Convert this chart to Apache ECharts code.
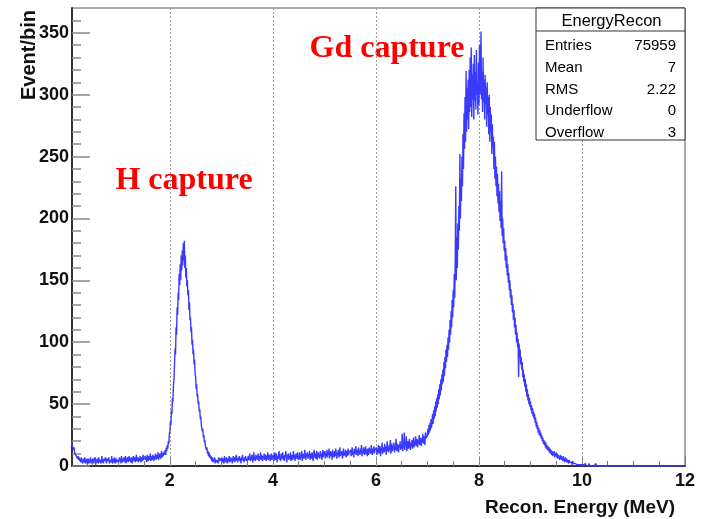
<!DOCTYPE html>
<html>
<head>
<meta charset="utf-8">
<script src="https://cdn.jsdelivr.net/npm/echarts@6/dist/echarts.min.js"></script>
<style>html,body{margin:0;padding:0;background:#fff}#c{width:702px;height:519px}</style>
</head>
<body>
<div id="c"></div>
<script>
// Histogram: bins of 0.01 MeV starting at 0 MeV, 50 bins per array
const binStart = 0;
const binWidth = 0.01;
const counts_00_05 = [34,30,31,27,28,24,25,21,22,19, 20,16,17,13,15,11,12,9,10,8, 9,6,8,5,7,4,6,3,7,4, 5,2,6,3,4,7,2,5,3,6, 1,4,6,2,5,3,7,2,4,5];
const counts_05_10 = [3,6,2,5,4,7,1,5,3,6, 4,2,7,3,5,6,2,4,8,3, 5,2,6,4,3,7,5,2,6,4, 3,7,4,2,5,6,3,8,4,2, 6,3,5,7,2,4,6,3,5,4];
const counts_10_15 = [5,3,7,4,6,2,8,5,3,6, 4,7,3,5,8,2,6,4,7,3, 5,8,4,6,3,7,5,2,6,8, 4,5,7,3,6,9,4,5,7,3, 6,4,8,5,3,7,6,4,9,5];
const counts_15_20 = [6,4,8,5,7,3,9,6,4,8, 5,7,10,4,6,8,5,9,7,4, 8,6,10,5,7,9,6,11,5,8, 7,10,6,9,12,7,10,8,11,9, 10,13,9,15,12,17,14,20,18,26];
const counts_20_25 = [28,36,33,45,42,55,52,66,70,82, 95,90,112,106,128,122,140,134,155,146, 163,150,170,158,174,162,180,166,182,160, 170,152,160,145,150,138,142,126,132,118, 120,108,112,98,102,90,94,82,86,74];
const counts_25_30 = [72,62,66,56,58,50,52,44,46,38, 40,33,34,28,30,23,25,19,21,16, 17,13,15,10,12,8,11,7,9,6, 8,4,7,5,3,6,4,7,2,5, 4,6,3,5,2,7,4,3,6,5];
const counts_30_35 = [4,7,3,6,5,2,8,4,6,3, 7,5,2,6,4,8,3,5,7,4, 6,2,5,8,4,7,3,6,5,9, 4,6,3,7,5,8,4,6,2,7, 5,9,4,6,3,7,5,8,4,6];
const counts_35_40 = [7,4,8,5,6,10,4,7,5,9, 6,3,8,11,5,7,4,9,6,8, 5,10,7,4,8,6,11,5,9,7, 4,8,6,10,5,7,9,4,8,6, 11,5,7,9,6,4,8,10,5,7];
const counts_40_45 = [6,9,4,8,11,5,7,10,3,8, 6,9,12,5,7,4,10,8,6,11, 5,8,4,9,7,12,6,3,9,7, 10,5,8,6,11,4,7,9,5,8, 12,6,9,4,8,10,6,7,11,5];
const counts_45_50 = [8,6,11,5,9,7,12,4,10,8, 6,9,13,7,5,10,8,11,6,9, 7,12,5,8,10,6,11,9,4,8, 13,7,10,6,9,12,5,8,11,7, 9,6,12,8,10,5,9,13,7,10];
const counts_50_55 = [9,12,6,10,8,13,7,11,9,14, 6,10,12,8,11,5,13,9,10,7, 12,8,14,10,6,11,9,13,7,10, 15,8,11,9,12,6,10,14,8,11, 9,13,7,12,10,8,14,9,11,12];
const counts_55_60 = [10,13,8,12,15,9,11,7,14,10, 12,16,9,11,13,8,15,10,12,9, 14,11,17,8,12,10,15,13,9,11, 16,10,13,8,14,12,9,15,11,13, 10,17,12,9,14,11,16,10,13,12];
const counts_60_65 = [12,15,9,14,11,17,10,13,16,8, 14,12,19,10,15,13,11,18,12,16, 9,14,20,12,15,11,17,13,21,10, 15,18,12,16,14,19,11,15,13,22, 16,12,18,14,11,17,15,20,13,16];
const counts_65_70 = [14,26,12,18,15,27,13,19,16,24, 12,17,20,14,18,22,15,13,19,16, 21,14,18,23,15,20,17,24,16,19, 22,15,21,18,25,17,20,23,16,22, 19,26,18,24,21,17,27,22,25,23];
const counts_70_75 = [22,30,25,33,27,35,29,38,31,36, 42,34,45,38,48,40,52,44,55,47, 58,50,62,54,66,57,70,61,74,66, 78,68,84,73,88,79,94,84,98,88, 104,94,110,100,118,106,125,112,134,120];
const counts_75_80 = [142,128,155,136,168,226,150,185,160,196, 175,210,190,252,200,232,214,250,226,268, 240,285,256,298,262,319,270,305,280,312, 272,320,286,330,290,338,282,316,296,325, 280,332,295,318,288,336,300,310,284,326];
const counts_80_85 = [292,340,300,322,351,296,318,286,330,294, 312,280,316,292,306,274,310,284,298,268, 300,262,290,270,284,252,276,258,266,240, 262,232,250,226,242,218,236,212,228,205, 222,198,214,192,238,186,200,180,192,174];
const counts_85_90 = [182,166,176,160,170,154,163,148,156,142, 150,136,143,130,138,124,131,118,126,112, 120,106,114,100,108,96,103,72,99,88, 94,82,88,78,84,72,78,68,74,64, 70,60,66,56,62,53,58,50,55,48];
const counts_90_95 = [52,45,49,42,47,40,44,38,42,35, 39,32,36,30,33,27,31,25,29,24, 27,22,25,20,23,18,21,17,20,15, 19,14,17,13,16,12,15,11,14,10, 13,9,12,8,11,9,12,7,10,8];
const counts_95_100 = [11,7,10,6,9,7,8,5,9,6, 8,5,7,4,8,5,6,3,7,4, 6,3,5,4,2,5,3,4,2,4, 3,1,4,2,3,1,3,2,1,3, 2,1,2,0,2,1,1,2,0,1];
const counts_100_105 = [1,0,2,1,0,1,0,2,0,1, 0,1,0,0,2,0,1,0,1,0, 0,1,0,0,1,0,0,2,0,0, 1,0,0,1,0,0,0,1,0,0, 0,0,1,0,0,0,1,0,0,0];
const counts_105_110 = [0,1,0,0,0,0,1,0,0,0, 0,0,0,1,0,0,0,0,0,1, 0,0,0,0,0,0,1,0,0,0, 0,0,0,0,1,0,0,0,0,0, 0,0,0,0,0,0,0,1,0,0];
const counts_110_115 = [0,0,0,0,1,0,0,0,0,0, 0,0,0,0,0,0,0,0,1,0, 0,0,0,0,0,0,0,0,0,0, 0,1,0,0,0,0,0,0,0,0, 0,0,0,0,0,0,0,0,0,0];
const counts_115_120 = [0,0,0,0,0,0,0,0,0,0, 0,0,0,1,0,0,0,0,0,0, 0,0,0,0,0,0,0,0,0,0, 0,0,0,0,0,0,0,0,0,0, 0,0,0,0,0,0,0,0,0,0];

const xRange = [0.1, 12];
const yRange = [0, 370];
const xTickLabels = [2, 4, 6, 8, 10, 12];
const xMinorTicks = [0.5,1,1.5,2,2.5,3,3.5,4,4.5,5,5.5,6,6.5,7,7.5,8,8.5,9,9.5,10,10.5,11,11.5];
const xGridLines = [2, 4, 6, 8, 10];
const yTickLabels = [0, 50, 100, 150, 200, 250, 300, 350];
const yMinorTicks = [10,20,30,40,60,70,80,90,110,120,130,140,160,170,180,190,210,220,230,240,260,270,280,290,310,320,330,340,360];
const statsTitle = 'EnergyRecon';
const statsNames = ['Entries', 'Mean', 'RMS', 'Underflow', 'Overflow'];
const statsValues = ['75959', '7', '2.22', '0', '3'];
const xTitle = 'Recon. Energy (MeV)';
const yTitle = 'Event/bin';
const annotations = ['Gd capture', 'H capture'];

const allCounts = [].concat(counts_00_05, counts_05_10, counts_10_15, counts_15_20, counts_20_25, counts_25_30,
  counts_30_35, counts_35_40, counts_40_45, counts_45_50, counts_50_55, counts_55_60,
  counts_60_65, counts_65_70, counts_70_75, counts_75_80, counts_80_85, counts_85_90,
  counts_90_95, counts_95_100, counts_100_105, counts_105_110, counts_110_115, counts_115_120);
const histData = allCounts.map((v, i) => [+(binStart + (i + 0.5) * binWidth).toFixed(4), v]);

const chart = echarts.init(document.getElementById('c'), null, {renderer: 'canvas'});

const G = {left: 72, right: 17, top: 8, bottom: 53};
const statsGraphics = [];
const bx = 536, by = 8, bw = 149, bh = 132;
statsGraphics.push({type: 'rect', shape: {x: bx, y: by, width: bw, height: bh}, style: {fill: '#fff', stroke: '#333', lineWidth: 1}, z: 10});
statsGraphics.push({type: 'line', shape: {x1: bx, y1: 31, x2: bx + bw, y2: 31}, style: {stroke: '#333', lineWidth: 1}, z: 11});
statsGraphics.push({type: 'text', x: bx + bw / 2 + 1, y: 21, z: 11, style: {text: statsTitle, font: '16.5px "Liberation Sans"', fill: '#000', textAlign: 'center', textVerticalAlign: 'middle'}});
statsNames.forEach((n, i) => {
  const yy = 46 + i * 21.7;
  statsGraphics.push({type: 'text', x: 545, y: yy, z: 11, style: {text: n, font: '15px "Liberation Sans"', fill: '#000', textAlign: 'left', textVerticalAlign: 'middle'}});
  statsGraphics.push({type: 'text', x: 676, y: yy, z: 11, style: {text: statsValues[i], font: '15px "Liberation Sans"', fill: '#000', textAlign: 'right', textVerticalAlign: 'middle'}});
});

const option = {
  animation: false,
  backgroundColor: '#fff',
  grid: {left: G.left, right: G.right, top: G.top, bottom: G.bottom, show: true, borderColor: '#555', borderWidth: 1, containLabel: false},
  xAxis: [
    {
      type: 'value', min: xRange[0], max: xRange[1],
      axisLine: {show: true, onZero: false, lineStyle: {color: '#333', width: 2}},
      axisTick: {show: true, inside: true, length: 10, customValues: xTickLabels, lineStyle: {color: '#777', width: 1}},
      axisLabel: {customValues: xTickLabels, fontSize: 18, fontWeight: 'bold', fontFamily: 'Liberation Sans', color: '#111', margin: 6},
      splitLine: {show: false}
    },
    {
      type: 'value', min: xRange[0], max: xRange[1], position: 'bottom',
      axisLine: {show: false},
      axisTick: {show: true, inside: true, length: 5, customValues: xMinorTicks, lineStyle: {color: '#777', width: 1}},
      axisLabel: {show: false},
      splitLine: {show: false}
    }
  ],
  yAxis: [
    {
      type: 'value', min: yRange[0], max: yRange[1],
      axisLine: {show: true, onZero: false, lineStyle: {color: '#333', width: 2}},
      axisTick: {show: true, inside: true, length: 18, customValues: yTickLabels, lineStyle: {color: '#888', width: 1.5}},
      axisLabel: {customValues: yTickLabels, fontSize: 18, fontWeight: 'bold', fontFamily: 'Liberation Sans', color: '#111', margin: 3},
      splitLine: {show: false}
    },
    {
      type: 'value', min: yRange[0], max: yRange[1], position: 'left',
      axisLine: {show: false},
      axisTick: {show: true, inside: true, length: 9, customValues: yMinorTicks, lineStyle: {color: '#888', width: 1.5}},
      axisLabel: {show: false},
      splitLine: {show: false}
    }
  ],
  series: [{
    type: 'line',
    xAxisIndex: 0, yAxisIndex: 0,
    data: histData,
    step: 'middle',
    showSymbol: false,
    symbol: 'none',
    clip: true,
    lineStyle: {color: '#3a3aff', width: 1.4},
    z: 3,
    markLine: {
      silent: true,
      symbol: 'none',
      label: {show: false},
      lineStyle: {color: '#999', type: [2, 2], width: 1},
      data: xGridLines.map(v => ({xAxis: v})),
      z: 1
    }
  }],
  graphic: [
    {type: 'text', x: 29, y: 55, rotation: Math.PI / 2, style: {text: yTitle, font: 'bold 20px "Liberation Sans"', fill: '#111', textAlign: 'center', textVerticalAlign: 'middle'}},
    {type: 'text', x: 675, y: 508, style: {text: xTitle, font: 'bold 19px "Liberation Sans"', fill: '#111', textAlign: 'right', textVerticalAlign: 'middle'}},
    {type: 'text', x: 387, y: 49, style: {text: annotations[0], font: 'bold 32px "Liberation Serif"', fill: '#ff0000', textAlign: 'center', textVerticalAlign: 'middle'}},
    {type: 'text', x: 184, y: 181, style: {text: annotations[1], font: 'bold 32px "Liberation Serif"', fill: '#ff0000', textAlign: 'center', textVerticalAlign: 'middle'}}
  ].concat(statsGraphics)
};
chart.setOption(option);
</script>
</body>
</html>
